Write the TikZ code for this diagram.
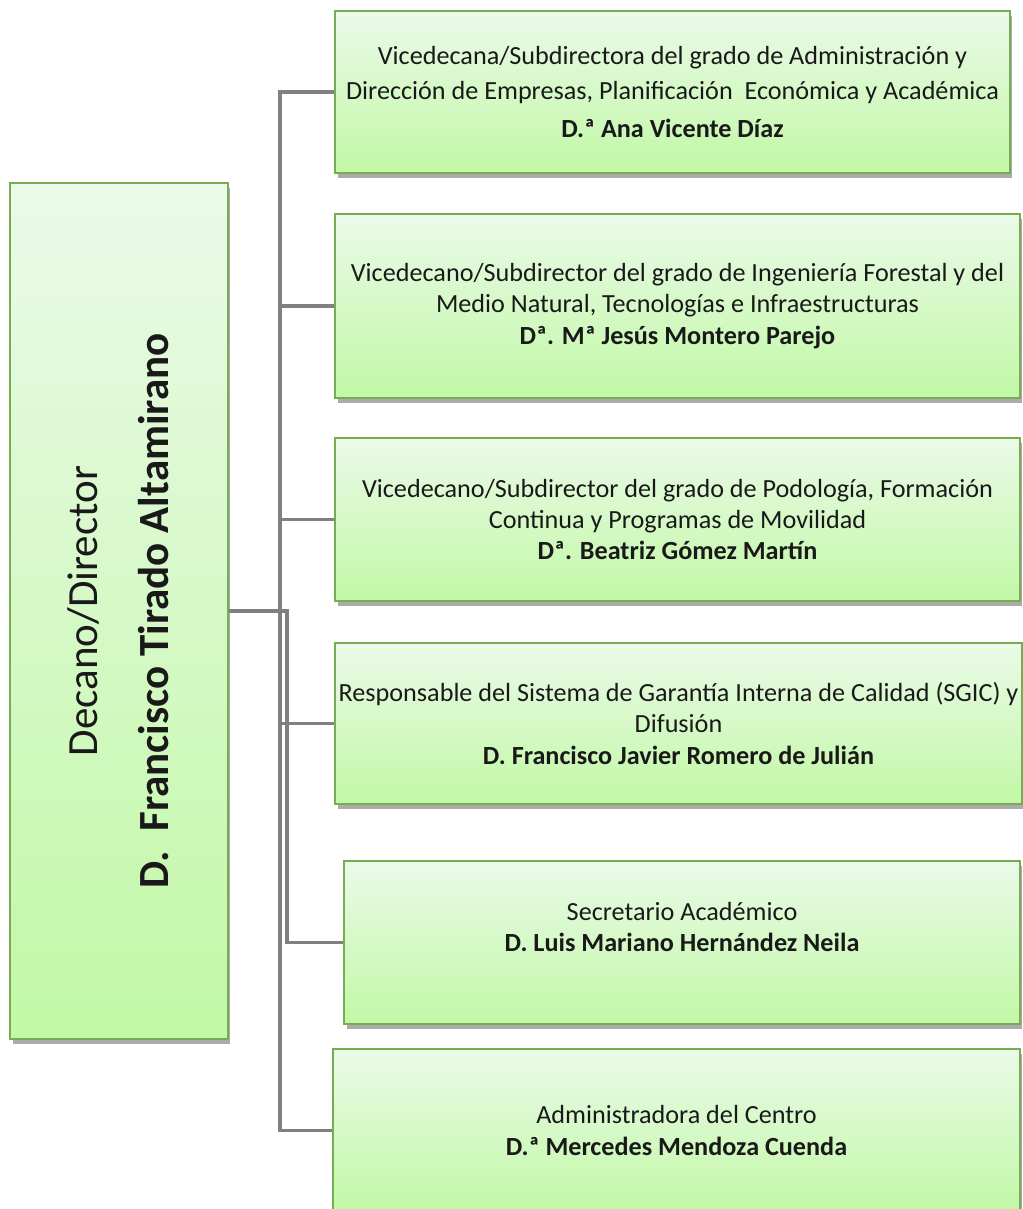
\documentclass[tikz,border=0pt]{standalone}
\usepackage{fontspec}
\setmainfont{Carlito}
\usetikzlibrary{shadows}
\definecolor{boxline}{RGB}{118,172,82}
\definecolor{boxtop}{RGB}{234,250,232}
\definecolor{boxbottom}{RGB}{194,248,166}
\definecolor{linkgray}{RGB}{128,128,128}
\newcommand{\rolefont}{\fontsize{14.9pt}{17.9pt}\selectfont}
\newcommand{\deanfont}{\fontsize{24.5pt}{40pt}\selectfont}
\tikzset{
  rolebox/.style={draw=boxline, line width=1.2pt, top color=boxtop, bottom color=boxbottom,
    drop shadow={shadow xshift=0.05cm, shadow yshift=-0.1cm, opacity=0.55, fill=black!60},
    align=center, inner sep=0pt, font=\rolefont, text=black!90},
  link/.style={draw=linkgray, line width=2pt}
}

\begin{document}
\begin{tikzpicture}[x=0.02cm,y=-0.02cm]
\useasboundingbox (0,0) rectangle (1023,1209);
%dean box on the left
\node[rolebox, minimum width=4.36cm, minimum height=17.12cm, font=\deanfont] (dean) at (119,611)
  {\rotatebox{90}{\begin{tabular}{@{}c@{}}Decano/Director\\ \textbf{D.\ \ Francisco Tirado Altamirano}\end{tabular}}};
%boxes on the right
\node[rolebox, minimum width=13.5cm, minimum height=3.24cm] (grado1) at (672.5,92)
  {Vicedecana/Subdirectora del grado de Administración y\\[2pt]
   Dirección de Empresas, Planificación~ Económica y Académica\\[4pt]
   \textbf{D.ª Ana Vicente Díaz}};
\node[rolebox, minimum width=13.7cm, minimum height=3.68cm] (grado2) at (677.5,306)
  {Vicedecano/Subdirector del grado de Ingeniería Forestal y del\\
   Medio Natural, Tecnologías e Infraestructuras\\
   \textbf{Dª. Mª Jesús Montero Parejo}};
\node[rolebox, minimum width=13.7cm, minimum height=3.26cm] (grado3) at (677.5,519.5)
  {Vicedecano/Subdirector del grado de Podología, Formación\\
   Continua y Programas de Movilidad\\
   \textbf{Dª. Beatriz Gómez Martín}};
\node[rolebox, minimum width=13.74cm, minimum height=3.22cm] (calidad) at (678.5,723.5)
  {Responsable del Sistema de Garantía Interna de Calidad (SGIC) y\\
   Difusión\\
   \textbf{D. Francisco Javier Romero de Julián}};
\node[rolebox, minimum width=13.52cm, minimum height=3.26cm] (secretario) at (682,942.5)
  {Secretario Académico\\
   \textbf{D. Luis Mariano Hernández Neila}\\ \mbox{}};
\node[rolebox, minimum width=13.74cm, minimum height=3.26cm] (admin) at (676.5,1130.5)
  {Administradora del Centro\\
   \textbf{D.ª Mercedes Mendoza Cuenda}};
% connectors
\coordinate (trunk) at (280,92);
\draw[link] (grado1.west) -- (trunk) |- (admin.west);
\foreach \n in {grado2,grado3,calidad}
  \draw[link] (\n.west) -- (\n.west -| trunk);
\draw[link] (dean.east) -- ++(58,0) |- (secretario.west);
\end{tikzpicture}
\end{document}
